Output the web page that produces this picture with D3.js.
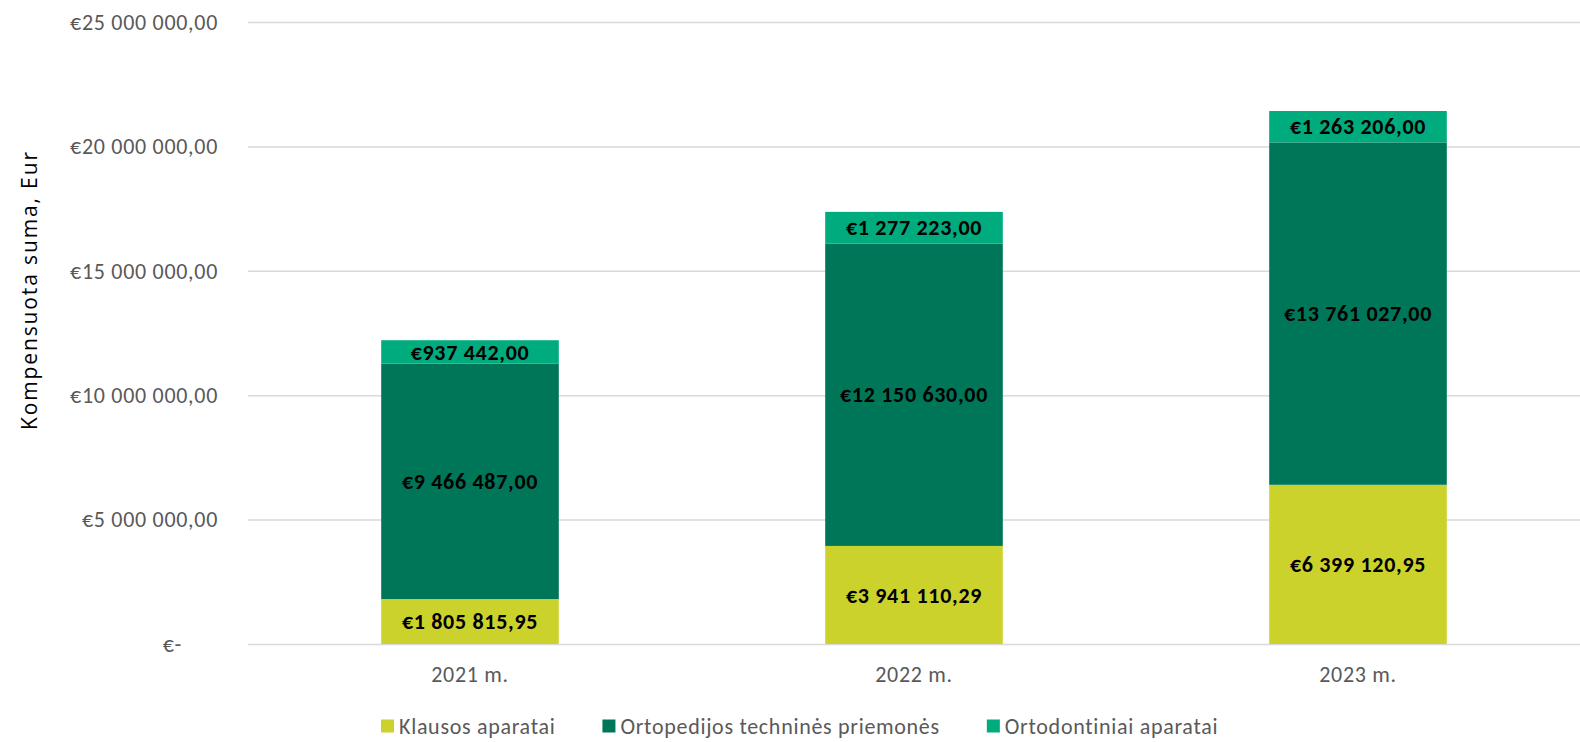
<!DOCTYPE html>
<html lang="lt">
  <head>
    <meta charset="utf-8" />
    <script src="https://cdn.jsdelivr.net/npm/d3@7"></script>
    <style>
      body {
        margin: 0;
        background: #fff;
      }
      text {
        font-family: Carlito, Lato, "Open Sans", sans-serif;
      }
      .grid line {
        stroke: #d9d9d9;
        stroke-width: 1.5px;
      }
      .grid path {
        display: none;
      }
    </style>
  </head>
  <body>
    <svg width="1580" height="742"></svg>
    <script>
      // duomenys
      var years = ["2021 m.", "2022 m.", "2023 m."];
      var series = ["Klausos aparatai", "Ortopedijos techninės priemonės", "Ortodontiniai aparatai"];
      var klausos = [1805815.95, 3941110.29, 6399120.95];
      var ortopedijos = [9466487.0, 12150630.0, 13761027.0];
      var ortodontiniai = [937442.0, 1277223.0, 1263206.0];
      var yTicks = [0, 5000000, 10000000, 15000000, 20000000, 25000000];
      var colors = ["#ccd22c", "#007658", "#00ab7e"];

      var svg = d3.select("svg");
      var margin = { top: 22, left: 248, right: 0, bottom: 98 };
      var width = 1580 - margin.left - margin.right;
      var height = 742 - margin.top - margin.bottom;
      var ls = "0.7px";

      var lt = d3.formatLocale({
        decimal: ",",
        thousands: "\u00a0",
        grouping: [3],
        currency: ["€", ""],
      });
      var money = lt.format("$,.2f");

      var rows = years.map(function (y, i) {
        return { year: y, k: klausos[i], o: ortopedijos[i], d: ortodontiniai[i] };
      });
      var stack = d3.stack().keys(["k", "o", "d"])(rows);

      var x = d3.scaleBand().domain(years).range([0, width]).paddingInner(0.6).paddingOuter(0.3);
      var y = d3.scaleLinear().domain([0, 25000000]).range([height, 0]);

      var g = svg.append("g").attr("transform", "translate(" + margin.left + "," + margin.top + ")");

      g.append("g")
        .attr("class", "grid")
        .call(d3.axisLeft(y).tickValues(yTicks).tickSize(-width).tickFormat(""));

      // y tick labels
      g.selectAll(".ylab")
        .data(yTicks)
        .enter()
        .append("text")
        .attr("class", "ylab")
        .attr("x", function (d) { return d === 0 ? -66 : -30; })
        .attr("y", function (d) { return y(d); })
        .attr("dy", "0.35em")
        .attr("text-anchor", "end")
        .attr("fill", "#595959")
        .style("font-size", "22px")
        .style("letter-spacing", ls)
        .text(function (d) { return d === 0 ? "€-" : money(d); });

      // bars
      var layer = g.selectAll(".layer")
        .data(stack)
        .enter()
        .append("g")
        .attr("fill", function (d, i) { return colors[i]; });

      layer.selectAll("rect")
        .data(function (d) { return d; })
        .enter()
        .append("rect")
        .attr("x", function (d) { return x(d.data.year); })
        .attr("y", function (d) { return y(d[1]); })
        .attr("height", function (d) { return y(d[0]) - y(d[1]); })
        .attr("width", x.bandwidth());

      layer.selectAll(".val")
        .data(function (d) { return d; })
        .enter()
        .append("text")
        .attr("x", function (d) { return x(d.data.year) + x.bandwidth() / 2; })
        .attr("y", function (d) { return (y(d[0]) + y(d[1])) / 2; })
        .attr("dy", "0.35em")
        .attr("text-anchor", "middle")
        .attr("fill", "#000")
        .attr("font-weight", "bold")
        .style("font-size", "22px")
        .style("letter-spacing", ls)
        .text(function (d) { return money(d[1] - d[0]); });

      // x labels
      g.selectAll(".xlab")
        .data(years)
        .enter()
        .append("text")
        .attr("x", function (d) { return x(d) + x.bandwidth() / 2; })
        .attr("y", height + 38)
        .attr("text-anchor", "middle")
        .attr("fill", "#595959")
        .style("font-size", "22px")
        .style("letter-spacing", ls)
        .text(function (d) { return d; });

      // axis title
      svg.append("text")
        .attr("transform", "translate(37,291) rotate(-90)")
        .attr("text-anchor", "middle")
        .attr("fill", "#000")
        .attr("textLength", 278)
        .attr("lengthAdjust", "spacing")
        .style("font-family", "'Open Sans', sans-serif")
        .style("font-size", "21px")
        .text("Kompensuota suma, Eur");

      // legend
      var legend = svg.append("g").attr("transform", "translate(381,726)");
      var lx = 0;
      series.forEach(function (s, i) {
        var item = legend.append("g").attr("transform", "translate(" + lx + ",0)");
        item.append("rect").attr("x", 0).attr("y", -6.5).attr("width", 13).attr("height", 13).attr("fill", colors[i]);
        var t = item.append("text")
          .attr("x", 18)
          .attr("dy", "0.35em")
          .attr("fill", "#595959")
          .style("font-size", "22px")
          .style("letter-spacing", ls)
          .text(s);
        lx += 18 + t.node().getComputedTextLength() + 47;
      });
    </script>
  </body>
</html>
